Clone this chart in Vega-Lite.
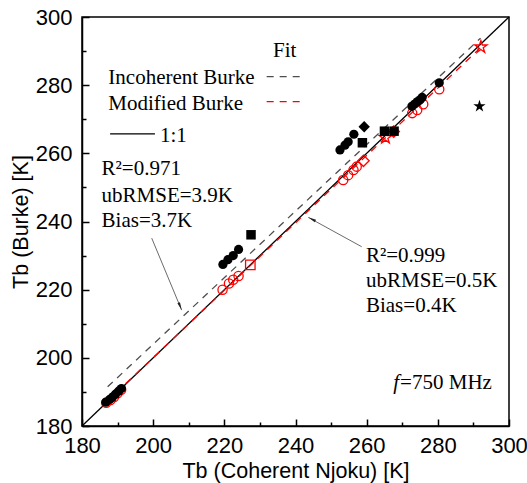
{
  "$schema": "https://vega.github.io/schema/vega-lite/v6.json",
  "width": 427,
  "height": 409,
  "autosize": "none",
  "padding": {"left": 82, "top": 17, "right": 18, "bottom": 57},
  "background": "white",
  "config": {
    "view": {"stroke": "black", "strokeWidth": 1.5},
    "axis": {
      "grid": false,
      "domainColor": "black",
      "domainWidth": 1.5,
      "tickColor": "black",
      "tickWidth": 1.5,
      "labelFont": "Liberation Sans",
      "labelFontSize": 22,
      "labelColor": "black",
      "titleFont": "Liberation Sans",
      "titleFontSize": 21.5,
      "titleFontWeight": "normal",
      "titleColor": "black",
      "labelOverlap": false,
      "labelFlush": false
    }
  },
  "datasets": {
    "lines": [
      {"series": "1:1", "x": 180, "y": 180},
      {"series": "1:1", "x": 300, "y": 300},
      {"series": "Incoherent Burke", "x": 187.2, "y": 191.5},
      {"series": "Incoherent Burke", "x": 292, "y": 293.8},
      {"series": "Modified Burke", "x": 187, "y": 187.2},
      {"series": "Modified Burke", "x": 292.5, "y": 291.5}
    ],
    "legendLines": [
      {"series": "Incoherent Burke", "x": 231.9, "x2": 242.7, "y": 282.5},
      {"series": "Modified Burke", "x": 231.9, "x2": 242.7, "y": 275.2},
      {"series": "1:1", "x": 187.9, "x2": 200.5, "y": 265.7}
    ],
    "points": [
      {"model": "Incoherent Burke", "shape": "circle", "x": 186.7, "y": 187.0},
      {"model": "Incoherent Burke", "shape": "circle", "x": 187.8, "y": 187.8},
      {"model": "Incoherent Burke", "shape": "circle", "x": 188.6, "y": 188.5},
      {"model": "Incoherent Burke", "shape": "circle", "x": 189.4, "y": 189.3},
      {"model": "Incoherent Burke", "shape": "circle", "x": 190.3, "y": 190.2},
      {"model": "Incoherent Burke", "shape": "circle", "x": 191.1, "y": 191.0},
      {"model": "Incoherent Burke", "shape": "circle", "x": 219.6, "y": 227.4},
      {"model": "Incoherent Burke", "shape": "circle", "x": 221.0, "y": 228.8},
      {"model": "Incoherent Burke", "shape": "circle", "x": 222.5, "y": 230.0},
      {"model": "Incoherent Burke", "shape": "circle", "x": 224.0, "y": 231.8},
      {"model": "Incoherent Burke", "shape": "square", "x": 227.5, "y": 236.1},
      {"model": "Incoherent Burke", "shape": "circle", "x": 252.5, "y": 261.0},
      {"model": "Incoherent Burke", "shape": "circle", "x": 253.9, "y": 262.4},
      {"model": "Incoherent Burke", "shape": "circle", "x": 254.8, "y": 263.4},
      {"model": "Incoherent Burke", "shape": "circle", "x": 256.4, "y": 265.6},
      {"model": "Incoherent Burke", "shape": "square", "x": 258.8, "y": 263.1},
      {"model": "Incoherent Burke", "shape": "diamond", "x": 259.3, "y": 267.8},
      {"model": "Incoherent Burke", "shape": "square", "x": 265.0, "y": 266.5},
      {"model": "Incoherent Burke", "shape": "square", "x": 267.7, "y": 266.5},
      {"model": "Incoherent Burke", "shape": "circle", "x": 272.7, "y": 273.8},
      {"model": "Incoherent Burke", "shape": "circle", "x": 273.4, "y": 274.4},
      {"model": "Incoherent Burke", "shape": "circle", "x": 274.2, "y": 275.1},
      {"model": "Incoherent Burke", "shape": "circle", "x": 275.0, "y": 275.7},
      {"model": "Incoherent Burke", "shape": "circle", "x": 275.6, "y": 276.4},
      {"model": "Incoherent Burke", "shape": "circle", "x": 280.4, "y": 280.7},
      {"model": "Incoherent Burke", "shape": "star", "x": 291.7, "y": 273.8},
      {"model": "Modified Burke", "shape": "circle", "x": 186.8, "y": 186.8},
      {"model": "Modified Burke", "shape": "circle", "x": 188.0, "y": 187.6},
      {"model": "Modified Burke", "shape": "circle", "x": 189.0, "y": 188.5},
      {"model": "Modified Burke", "shape": "circle", "x": 190.0, "y": 189.6},
      {"model": "Modified Burke", "shape": "circle", "x": 191.0, "y": 190.6},
      {"model": "Modified Burke", "shape": "circle", "x": 219.5, "y": 220.0},
      {"model": "Modified Burke", "shape": "circle", "x": 221.3, "y": 221.8},
      {"model": "Modified Burke", "shape": "circle", "x": 222.5, "y": 222.9},
      {"model": "Modified Burke", "shape": "circle", "x": 224.0, "y": 224.0},
      {"model": "Modified Burke", "shape": "square", "x": 227.3, "y": 227.3},
      {"model": "Modified Burke", "shape": "circle", "x": 253.4, "y": 252.2},
      {"model": "Modified Burke", "shape": "circle", "x": 254.8, "y": 253.6},
      {"model": "Modified Burke", "shape": "circle", "x": 256.3, "y": 255.1},
      {"model": "Modified Burke", "shape": "circle", "x": 257.2, "y": 256.1},
      {"model": "Modified Burke", "shape": "diamond", "x": 259.1, "y": 257.8},
      {"model": "Modified Burke", "shape": "star", "x": 265.3, "y": 264.6},
      {"model": "Modified Burke", "shape": "diamond", "x": 267.6, "y": 266.4},
      {"model": "Modified Burke", "shape": "circle", "x": 272.8, "y": 271.8},
      {"model": "Modified Burke", "shape": "circle", "x": 274.2, "y": 272.7},
      {"model": "Modified Burke", "shape": "circle", "x": 275.9, "y": 274.4},
      {"model": "Modified Burke", "shape": "circle", "x": 280.4, "y": 278.8},
      {"model": "Modified Burke", "shape": "star", "x": 292.1, "y": 291.2}
    ],
    "texts": [
      {"label": "Fit", "x": 233.7, "y": 288.3},
      {"label": "Incoherent Burke", "x": 187.4, "y": 280.3},
      {"label": "Modified Burke", "x": 187.4, "y": 272.7},
      {"label": "1:1", "x": 201.9, "y": 263.4},
      {"label": "R²=0.971", "x": 185.5, "y": 253.6},
      {"label": "ubRMSE=3.9K", "x": 185.5, "y": 245.8},
      {"label": "Bias=3.7K", "x": 185.5, "y": 238.5},
      {"label": "R²=0.999", "x": 259.8, "y": 228.2},
      {"label": "ubRMSE=0.5K", "x": 259.8, "y": 220.9},
      {"label": "Bias=0.4K", "x": 259.8, "y": 213.5},
      {"label": "=750 MHz", "x": 269.4, "y": 191.0}
    ],
    "italicTexts": [
      {"label": "f", "x": 267.5, "y": 191.0}
    ],
    "arrows": [
      {"x": 199.6, "y": 235.1, "x2": 208.0, "y2": 214.0},
      {"x": 258.6, "y": 232.6, "x2": 243.6, "y2": 241.2}
    ],
    "arrowHeads": [
      {"x": 207.6, "y": 215.1, "angle": 157.3},
      {"x": 244.6, "y": 240.7, "angle": 298.8}
    ]
  },
  "encoding": {
    "x": {
      "field": "x",
      "type": "quantitative",
      "scale": {"domain": [180, 300], "nice": false, "zero": false},
      "axis": {
        "title": "Tb (Coherent Njoku) [K]",
        "values": [180, 190, 200, 210, 220, 230, 240, 250, 260, 270, 280, 290, 300],
        "labelExpr": "datum.value % 20 === 0 ? datum.label : ''",
        "tickSize": {"condition": {"test": "datum.value % 20 === 0", "value": -7}, "value": -4},
        "labelPadding": 16,
        "titlePadding": 1
      }
    },
    "y": {
      "field": "y",
      "type": "quantitative",
      "scale": {"domain": [180, 300], "nice": false, "zero": false},
      "axis": {
        "title": "Tb (Burke) [K]",
        "values": [180, 190, 200, 210, 220, 230, 240, 250, 260, 270, 280, 290, 300],
        "labelExpr": "datum.value % 20 === 0 ? datum.label : ''",
        "tickSize": {"condition": {"test": "datum.value % 20 === 0", "value": -7}, "value": -4},
        "labelPadding": 17,
        "titlePadding": 3
      }
    }
  },
  "layer": [
    {
      "data": {"name": "lines"},
      "transform": [{"filter": "datum.series === '1:1'"}],
      "mark": {"type": "line", "color": "black", "strokeWidth": 1.3}
    },
    {
      "data": {"name": "lines"},
      "transform": [{"filter": "datum.series === 'Incoherent Burke'"}],
      "mark": {"type": "line", "color": "#4d4d4d", "strokeWidth": 1.3, "strokeDash": [7, 6]}
    },
    {
      "data": {"name": "lines"},
      "transform": [{"filter": "datum.series === 'Modified Burke'"}],
      "mark": {"type": "line", "color": "#ff0000", "strokeWidth": 1.3, "strokeDash": [7, 6]}
    },
    {
      "data": {"name": "legendLines"},
      "mark": {"type": "rule", "strokeWidth": 1.3},
      "encoding": {
        "x2": {"field": "x2"},
        "color": {"field": "series", "type": "nominal", "scale": {"domain": ["Incoherent Burke", "Modified Burke", "1:1"], "range": ["#4d4d4d", "#ff0000", "black"]}, "legend": null},
        "strokeDash": {"field": "series", "type": "nominal", "scale": {"domain": ["Incoherent Burke", "Modified Burke", "1:1"], "range": [[7, 6], [7, 6], [1, 0]]}, "legend": null}
      }
    },
    {
      "data": {"name": "points"},
      "transform": [{"filter": "datum.model === 'Modified Burke'"}],
      "mark": {"type": "point", "filled": false, "color": "#ff0000", "strokeWidth": 1.3, "opacity": 1},
      "encoding": {
        "shape": {"field": "shape", "type": "nominal", "scale": {"domain": ["circle", "square", "diamond", "star"], "range": ["circle", "square", "diamond", "M0,-1.6L0.359,-0.494L1.522,-0.494L0.581,0.189L0.941,1.294L0,0.611L-0.941,1.294L-0.581,0.189L-1.522,-0.494L-0.359,-0.494Z"]}, "legend": null},
        "size": {"field": "shape", "type": "nominal", "scale": {"type": "ordinal", "domain": ["circle", "square", "diamond", "star"], "range": [85, 90, 130, 65]}, "legend": null}
      }
    },
    {
      "data": {"name": "points"},
      "transform": [{"filter": "datum.model === 'Incoherent Burke'"}],
      "mark": {"type": "point", "filled": true, "color": "black", "opacity": 1},
      "encoding": {
        "shape": {"field": "shape", "type": "nominal", "scale": {"domain": ["circle", "square", "diamond", "star"], "range": ["circle", "square", "diamond", "M0,-1.6L0.359,-0.494L1.522,-0.494L0.581,0.189L0.941,1.294L0,0.611L-0.941,1.294L-0.581,0.189L-1.522,-0.494L-0.359,-0.494Z"]}, "legend": null},
        "size": {"field": "shape", "type": "nominal", "scale": {"type": "ordinal", "domain": ["circle", "square", "diamond", "star"], "range": [95, 100, 170, 55]}, "legend": null}
      }
    },
    {
      "data": {"name": "arrows"},
      "mark": {"type": "rule", "color": "#444444", "strokeWidth": 0.8},
      "encoding": {"x2": {"field": "x2"}, "y2": {"field": "y2"}}
    },
    {
      "data": {"name": "arrowHeads"},
      "mark": {"type": "point", "filled": true, "color": "#222222", "opacity": 1, "shape": "M0,-1L0.35,1L-0.35,1Z", "size": 64},
      "encoding": {"angle": {"field": "angle", "type": "quantitative", "scale": null}}
    },
    {
      "data": {"name": "texts"},
      "mark": {"type": "text", "align": "left", "baseline": "alphabetic", "font": "Liberation Serif", "fontSize": 21, "color": "black"},
      "encoding": {"text": {"field": "label"}}
    },
    {
      "data": {"name": "italicTexts"},
      "mark": {"type": "text", "align": "left", "baseline": "alphabetic", "font": "Liberation Serif", "fontSize": 21, "fontStyle": "italic", "color": "black"},
      "encoding": {"text": {"field": "label"}}
    }
  ]
}
